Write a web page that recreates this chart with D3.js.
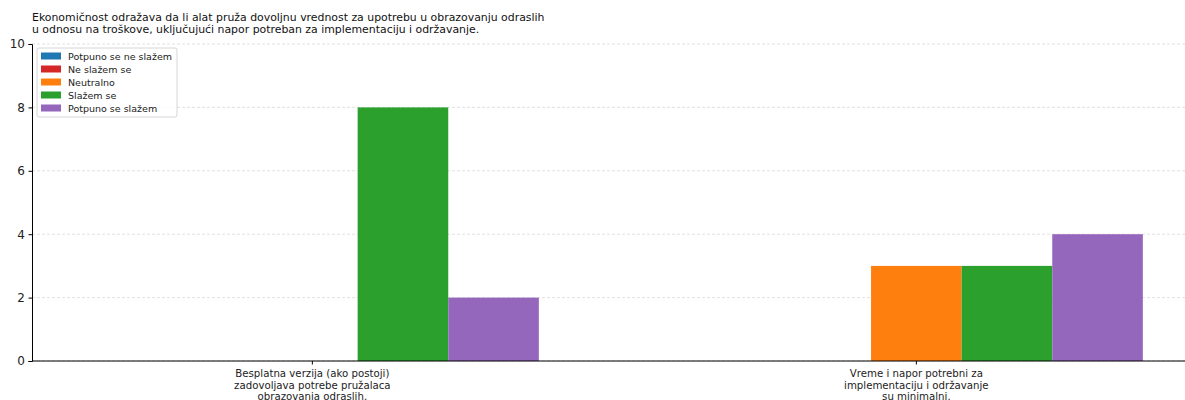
<!DOCTYPE html>
<html><head><meta charset="utf-8">
<script src="https://cdn.jsdelivr.net/npm/d3@7"></script>
<style>body{margin:0;background:#fff}svg{display:block;font-family:"DejaVu Sans",sans-serif}</style>
</head><body><svg id="c" width="1185" height="400"></svg>
<script>
const categories = [
  ["Besplatna verzija (ako postoji)", "zadovoljava potrebe pružalaca", "obrazovanja odraslih."],
  ["Vreme i napor potrebni za", "implementaciju i održavanje", "su minimalni."]
];
const seriesNames = ["Potpuno se ne slažem", "Ne slažem se", "Neutralno", "Slažem se", "Potpuno se slažem"];
const seriesColors = ["#1f77b4", "#d62728", "#ff7f0e", "#2ca02c", "#9467bd"];
const values = [
  [0, 0],   // Potpuno se ne slažem
  [0, 0],   // Ne slažem se
  [0, 3],   // Neutralno
  [8, 3],   // Slažem se
  [2, 4]    // Potpuno se slažem
];
const yTicks = [0, 2, 4, 6, 8, 10];
const titleLines = ["Ekonomičnost odražava da li alat pruža dovoljnu vrednost za upotrebu u obrazovanju odraslih",
                    "u odnosu na troškove, uključujući napor potreban za implementaciju i održavanje."];

(function () {
const svg = d3.select("#c");
const pl = 32, pr = 1185, pt = 44, pb = 361;
const barW = 0.15;
const x = d3.scaleLinear().domain([-0.4625, 1.4625]).range([pl + 1, pl + 1 + 1.925 * 604]);
const y = d3.scaleLinear().domain([0, 10]).range([pb, pt]);

// grid
svg.append("g").selectAll("line").data(yTicks).join("line")
  .attr("x1", pl).attr("x2", pr)
  .attr("y1", d => y(d)).attr("y2", d => y(d))
  .attr("stroke", "#d9d9d9").attr("stroke-width", 0.8).attr("stroke-dasharray", "3,2");

// bars
seriesNames.forEach((s, i) => {
  svg.append("g").selectAll("rect").data(values[i]).join("rect")
    .attr("x", (d, j) => x(j + (i - 2) * barW - barW / 2))
    .attr("width", x(barW) - x(0))
    .attr("y", d => y(d))
    .attr("height", d => y(0) - y(d))
    .attr("fill", seriesColors[i]);
});

// y axis
const ya = svg.append("g").attr("transform", `translate(${pl},0)`)
  .call(d3.axisLeft(y).tickValues(yTicks).tickSize(3.5).tickPadding(3.5));
ya.select(".domain").attr("stroke", "#000").attr("stroke-width", 1);
ya.selectAll("text").attr("font-size", 12).attr("fill", "#222").attr("font-family", "DejaVu Sans");
ya.selectAll(".tick line").attr("stroke", "#000");

// x axis
svg.append("line").attr("x1", pl).attr("x2", pr).attr("y1", pb).attr("y2", pb)
  .attr("stroke", "#000").attr("stroke-width", 1);
const xt = svg.append("g").selectAll("g").data(categories).join("g")
  .attr("transform", (d, j) => `translate(${x(j)},${pb})`);
xt.append("line").attr("y2", 3.5).attr("stroke", "#000");
xt.each(function(lines) {
  const g = d3.select(this);
  lines.forEach((t, k) => {
    g.append("text").attr("y", 16 + k * 11.5).attr("text-anchor", "middle")
      .attr("font-size", 10.2).attr("fill", "#222").text(t);
  });
});

// title
svg.append("g").selectAll("text").data(titleLines).join("text")
  .attr("x", pl).attr("y", (d, i) => 21 + i * 11.5)
  .attr("font-size", 10.9).attr("fill", "#111").text(d => d);

// legend
const lg = svg.append("g").attr("transform", "translate(37,48)");
lg.append("rect").attr("width", 140).attr("height", 69).attr("rx", 2)
  .attr("fill", "#fff").attr("fill-opacity", 0.8).attr("stroke", "#ccc").attr("stroke-width", 0.8);
seriesNames.forEach((s, i) => {
  const row = lg.append("g").attr("transform", `translate(4,${8 + i * 13})`);
  row.append("rect").attr("x", 0).attr("y", -3.5).attr("width", 20).attr("height", 7).attr("fill", seriesColors[i]);
  row.append("text").attr("x", 27).attr("y", 3.5).attr("font-size", 9.5).attr("fill", "#222").text(s);
});
})();
</script></body></html>
